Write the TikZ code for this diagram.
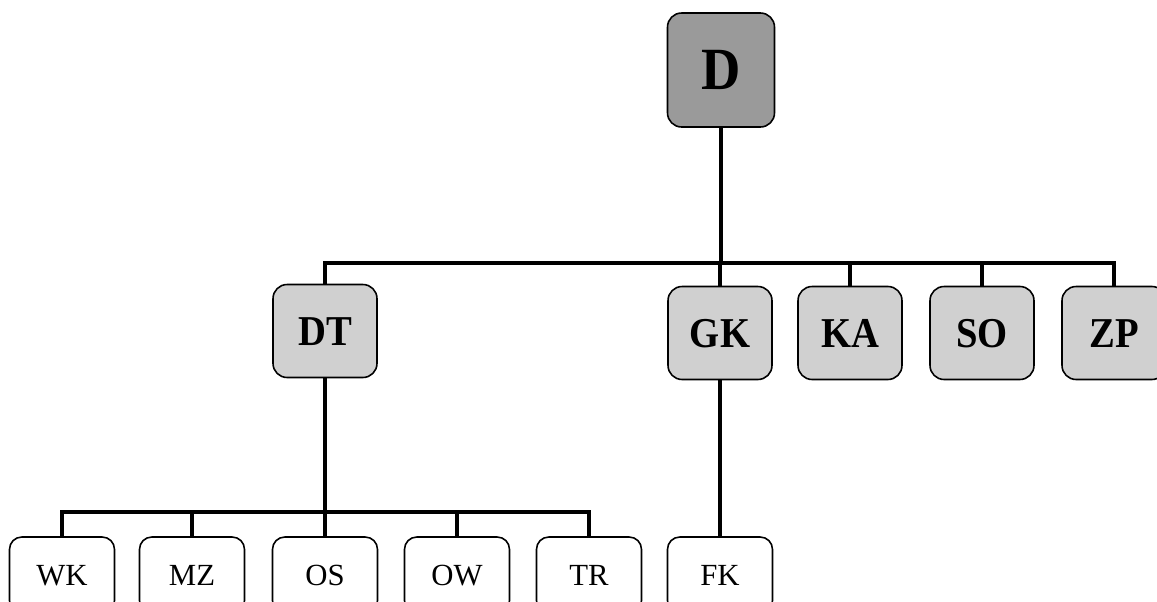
\documentclass[tikz,border=0pt]{standalone}
\usepackage{fontspec}
\setmainfont{Liberation Serif}
\usetikzlibrary{calc}
\definecolor{rootfill}{HTML}{9A9A9A}
\definecolor{unitfill}{HTML}{D0D0D0}
\definecolor{subfill}{HTML}{FFFFFF}
\definecolor{edge}{HTML}{000000}
\tikzset{
  boxBase/.style={draw=edge, line width=0.9pt, rounded corners=8pt, inner sep=0pt, text=edge, text depth=0pt},
  rootBox/.style={boxBase, fill=rootfill, minimum width=2.14cm, minimum height=2.28cm, text height=22.6pt,
                  font=\fontsize{31}{31}\selectfont\bfseries},
  unitBox/.style={boxBase, fill=unitfill, minimum width=2.08cm, minimum height=1.86cm, text height=16pt,
                  font=\fontsize{22}{22}\selectfont\bfseries},
  subBox/.style={boxBase, fill=subfill, rounded corners=7pt, minimum width=2.1cm, minimum height=1.52cm,
                 text height=11.6pt, font=\fontsize{17.5}{17.5}\selectfont},
  link/.style={draw=edge, line width=2.8pt},
}
\newcommand{\tallLbl}[1]{\scalebox{1}[1.1]{#1}}

\begin{document}
\begin{tikzpicture}[x=0.02cm, y=-0.02cm]
  \useasboundingbox (0,0) rectangle (1157,602);
  \clip (0,0) rectangle (1157,602);

  \coordinate (topBar) at (720,263);
  \coordinate (subBar) at (325,512);

  \node[rootBox] (D) at (721,70) {\tallLbl{D}};

  \node[unitBox] (DT) at (325,331) {\tallLbl{DT}};
  \node[unitBox] (GK) at (720,333) {\tallLbl{GK}};
  \node[unitBox] (KA) at (850,333) {\tallLbl{KA}};
  \node[unitBox] (SO) at (982,333) {\tallLbl{SO}};
  \node[unitBox] (ZP) at (1114,333) {\tallLbl{ZP}};

  \node[subBox] (WK) at (62,575)  {WK};
  \node[subBox] (MZ) at (192,575) {MZ};
  \node[subBox] (OS) at (325,575) {OS};
  \node[subBox] (OW) at (457,575) {OW};
  \node[subBox] (TR) at (589,575) {TR};
  \node[subBox] (FK) at (720,575) {FK};

  % connectors between the levels
  \draw[link] (D.south) -- (D.south |- topBar);
  \draw[link] (DT.north) -- (DT.north |- topBar) -- (ZP.north |- topBar) -- (ZP.north);
  \foreach \u in {GK,KA,SO}
    \draw[link] (\u.north) -- (\u.north |- topBar);

  \draw[link] (DT.south) -- (DT.south |- subBar);
  \draw[link] (WK.north) -- (WK.north |- subBar) -- (TR.north |- subBar) -- (TR.north);
  \foreach \s in {MZ,OS,OW}
    \draw[link] (\s.north) -- (\s.north |- subBar);

  \draw[link] (GK.south) -- (FK.north);
\end{tikzpicture}
\end{document}
